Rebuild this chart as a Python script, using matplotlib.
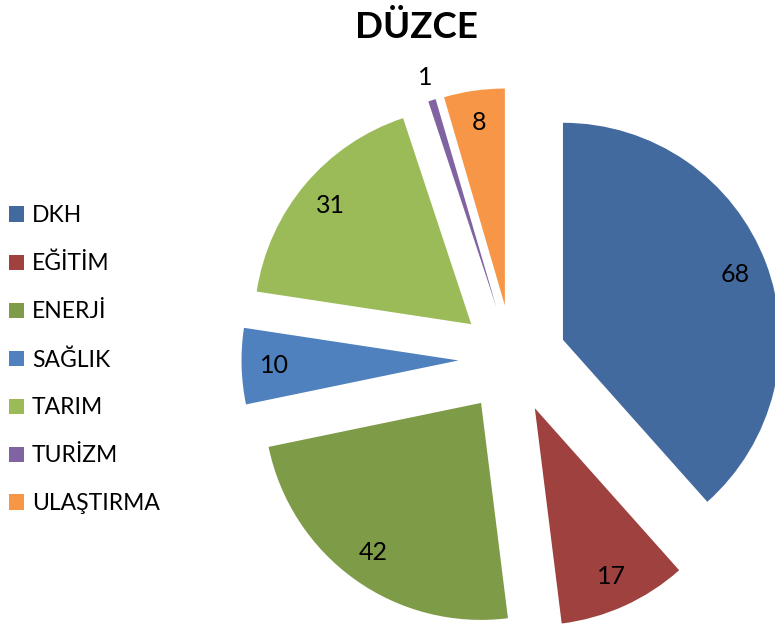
import numpy as np
import matplotlib
matplotlib.use("Agg")
import matplotlib.pyplot as plt

# data
sectors = ["DKH", "EĞİTİM", "ENERJİ", "SAĞLIK", "TARIM", "TURİZM", "ULAŞTIRMA"]
counts = [68, 17, 42, 10, 31, 1, 8]
colors = ["#436A9F", "#9E413F", "#7E9B48", "#4E81BE", "#9BBB59", "#8064A2", "#F79646"]

plt.rcParams['font.family'] = ['Lato', 'DejaVu Sans']

W, H = 775, 624
fig = plt.figure(figsize=(W / 100, H / 100), dpi=100)
ax = fig.add_axes([0, 0, 1, 1])

# pie geometry in pixel units (explode is absolute when radius != 1)
cx, cy, r = 512.5, H - 359, 217
wedges, _ = ax.pie(counts, explode=[54] * len(counts), colors=colors,
                   startangle=90, counterclock=False, radius=r, center=(cx, cy),
                   wedgeprops=dict(linewidth=0))

# value labels, placed along each wedge's mid angle
for w, v in zip(wedges, counts):
    mid = np.deg2rad((w.theta1 + w.theta2) / 2)
    wx, wy = w.center
    dist = 1.11 if v == 1 else 0.85
    ax.text(wx + dist * r * np.cos(mid), wy + dist * r * np.sin(mid), str(v),
            ha='center', va='center', fontsize=18, color='black')

ax.set_xlim(0, W)
ax.set_ylim(0, H)
ax.set_aspect('equal')
ax.axis('off')

ax.text(416, H - 28, "DÜZCE", ha='center', va='center', fontsize=26.5,
        fontweight='bold', color='black')

ax.legend(wedges, sectors, loc='upper left', bbox_to_anchor=(0.0, 1 - 196 / H),
          frameon=False, fontsize=16.5, handlelength=0.65, handleheight=0.65,
          handletextpad=0.35, labelspacing=1.17, borderaxespad=0.1,
          borderpad=0.3)

fig.savefig("out.png", dpi=100)
